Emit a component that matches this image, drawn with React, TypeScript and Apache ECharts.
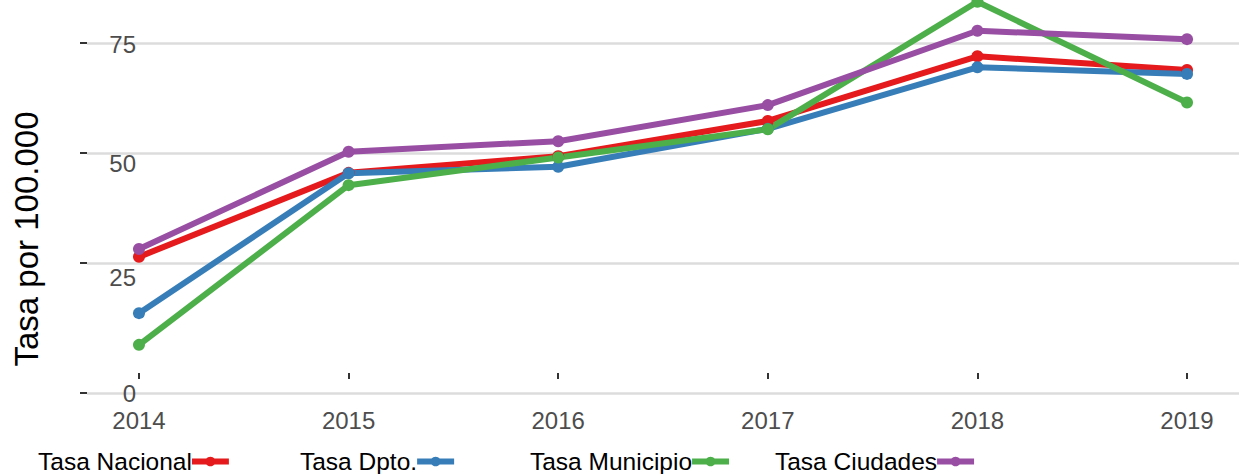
import React, { useEffect, useRef } from "react";
import * as echarts from "echarts";

const years = [2014, 2015, 2016, 2017, 2018, 2019];
const seriesNames = ["Tasa Nacional", "Tasa Dpto.", "Tasa Municipio", "Tasa Ciudades"];
const nacional = [26.4, 45.5, 49.3, 57.3, 72.0, 68.9];
const dpto = [13.6, 45.4, 46.9, 55.5, 69.5, 68.0];
const municipio = [6.4, 42.7, 49.0, 55.4, 84.4, 61.5];
const ciudades = [28.2, 50.3, 52.7, 60.9, 77.8, 75.9];
const colors = ["#E41A1C", "#377EB8", "#4DAF4A", "#984EA3"];

const Y_MIN = -4.55;
const Y_MAX = 84.8;
const yTickValues = [Y_MIN, 25, 50, 75];
const yTickLabels = ["0", "25", "50", "75"];
const X_MIN = 2013.752;
const X_MAX = 2019.248;
const legendLefts = [38, 300, 530, 775];

const FONT = "'Liberation Sans', Arial, Helvetica, sans-serif";

export default function App() {
  const ref = useRef<HTMLDivElement>(null);
  useEffect(() => {
    if (!ref.current) return;
    const chart = echarts.init(ref.current, undefined, { renderer: "svg" });
    const allData = [nacional, dpto, municipio, ciudades];
    const labelColor = "#4d4d4d";
    const richBase = { fontSize: 24, color: labelColor, fontFamily: FONT };
    chart.setOption({
      animation: false,
      backgroundColor: "#ffffff",
      grid: { left: 87, right: 0, top: 0, bottom: 81, containLabel: false },
      xAxis: {
        type: "value",
        min: X_MIN,
        max: X_MAX,
        offset: 4,
        axisLine: { show: false },
        splitLine: { show: false },
        axisTick: {
          show: true,
          length: 6,
          customValues: years,
          lineStyle: { color: "#333333", width: 2 },
        },
        axisLabel: {
          customValues: years,
          formatter: (v: number) => String(Math.round(v)),
          margin: 11,
          color: labelColor,
          fontSize: 24,
          fontFamily: FONT,
        },
      },
      yAxis: {
        type: "value",
        min: Y_MIN,
        max: Y_MAX,
        axisLine: { show: false },
        axisTick: {
          show: true,
          inside: false,
          length: 7,
          customValues: yTickValues,
          lineStyle: { color: "#333333", width: 2 },
        },
        splitLine: { show: true, lineStyle: { color: "#dcdcdc", width: 2.5 } },
        axisLabel: {
          inside: true,
          margin: 49,
          align: "right",
          customValues: yTickValues,
          formatter: (v: number) => {
            let idx = 0;
            let best = Infinity;
            yTickValues.forEach((t, i) => {
              const d = Math.abs(t - v);
              if (d < best) {
                best = d;
                idx = i;
              }
            });
            return `{l${idx}|${yTickLabels[idx]}}`;
          },
          rich: {
            l0: { ...richBase },
            l1: { ...richBase, padding: [28, 0, 0, 0] },
            l2: { ...richBase, padding: [20, 0, 0, 0] },
            l3: { ...richBase, padding: [2, 0, 0, 0] },
          },
        },
      },
      legend: seriesNames.map((n, i) => ({
        data: [n],
        left: legendLefts[i],
        top: 449,
        padding: 0,
        align: "right",
        itemWidth: 37,
        itemHeight: 12,
        itemGap: 0,
        lineStyle: { width: 6 },
        textStyle: { fontSize: 24.5, color: "#000000", fontFamily: FONT, padding: [0, -5, 0, 0] },
      })),
      graphic: [
        {
          type: "text",
          x: 26,
          y: 239,
          rotation: Math.PI / 2,
          style: {
            text: "Tasa por 100.000",
            fontSize: 33,
            fontFamily: FONT,
            fill: "#000000",
            align: "center",
            verticalAlign: "middle",
          },
        },
      ],
      series: seriesNames.map((n, i) => ({
        name: n,
        type: "line",
        data: years.map((y, j) => [y, allData[i][j]]),
        symbol: "circle",
        symbolSize: 12,
        lineStyle: { width: 6, color: colors[i] },
        itemStyle: { color: colors[i] },
      })),
    });
    return () => chart.dispose();
  }, []);
  return (
    <div
      ref={ref}
      style={{ position: "absolute", left: 0, top: 0, width: 1239, height: 474 }}
    />
  );
}
